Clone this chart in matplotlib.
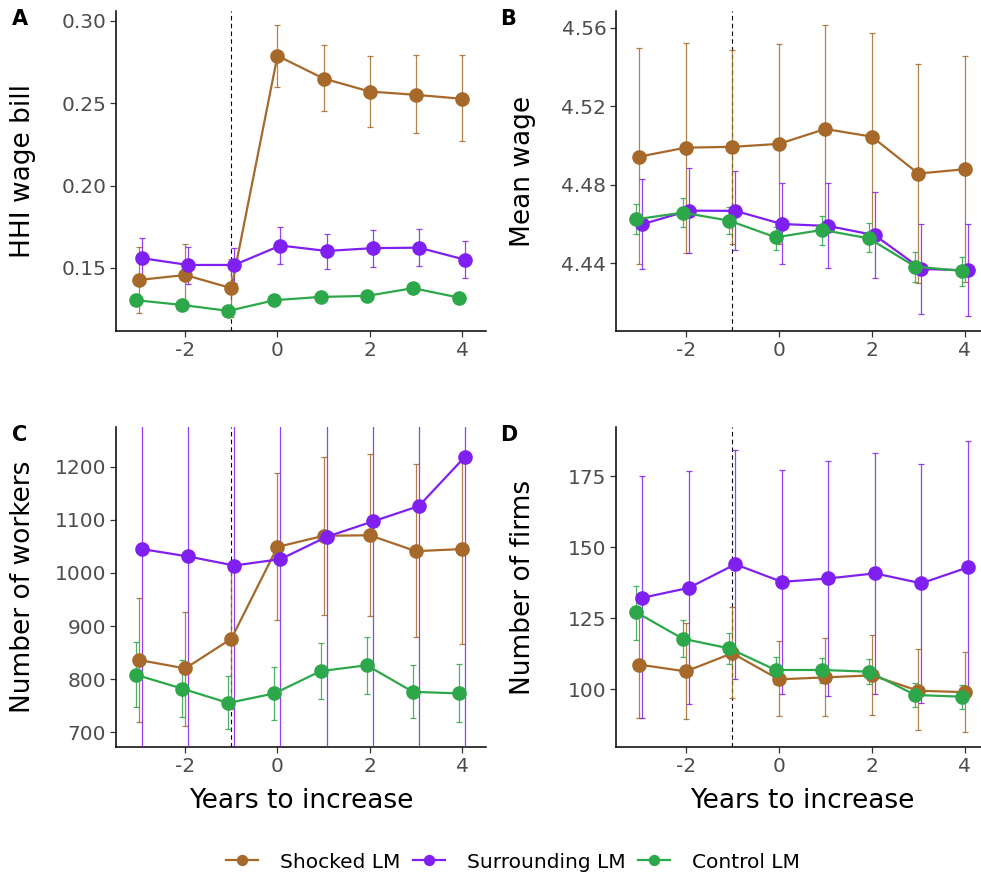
import numpy as np
import matplotlib.pyplot as plt

plt.rcParams['axes.unicode_minus'] = False

# event time
years = np.array([-3, -2, -1, 0, 1, 2, 3, 4])

# A: HHI wage bill
hhi_shocked = [0.1427, 0.1457, 0.1377, 0.2788, 0.2650, 0.2571, 0.2551, 0.2527]
hhi_shocked_lo = [0.1228, 0.1269, 0.1204, 0.2598, 0.2450, 0.2357, 0.2318, 0.2270]
hhi_shocked_hi = [0.1630, 0.1648, 0.1555, 0.2978, 0.2855, 0.2784, 0.2792, 0.2790]
hhi_surr = [0.1559, 0.1518, 0.1518, 0.1636, 0.1603, 0.1620, 0.1623, 0.1550]
hhi_surr_lo = [0.1431, 0.1405, 0.1411, 0.1524, 0.1494, 0.1508, 0.1510, 0.1439]
hhi_surr_hi = [0.1684, 0.1630, 0.1623, 0.1751, 0.1708, 0.1731, 0.1739, 0.1664]
hhi_control = [0.1304, 0.1275, 0.1239, 0.1304, 0.1324, 0.1330, 0.1377, 0.1320]
hhi_control_lo = [0.1280, 0.1252, 0.1216, 0.1281, 0.1300, 0.1306, 0.1352, 0.1296]
hhi_control_hi = [0.1328, 0.1298, 0.1262, 0.1327, 0.1348, 0.1354, 0.1402, 0.1344]

# B: mean wage
wage_shocked = [4.4943, 4.4989, 4.4993, 4.5008, 4.5084, 4.5045, 4.4857, 4.4879]
wage_shocked_lo = [4.4395, 4.4452, 4.4500, 4.4500, 4.4552, 4.4519, 4.4300, 4.4303]
wage_shocked_hi = [4.5499, 4.5523, 4.5485, 4.5516, 4.5616, 4.5575, 4.5414, 4.5458]
wage_surr = [4.4599, 4.4668, 4.4667, 4.4600, 4.4590, 4.4543, 4.4371, 4.4364]
wage_surr_lo = [4.4369, 4.4451, 4.4468, 4.4395, 4.4378, 4.4324, 4.4142, 4.4130]
wage_surr_hi = [4.4828, 4.4884, 4.4872, 4.4808, 4.4808, 4.4762, 4.4599, 4.4600]
wage_control = [4.4624, 4.4658, 4.4617, 4.4532, 4.4570, 4.4527, 4.4383, 4.4361]
wage_control_lo = [4.4548, 4.4585, 4.4548, 4.4468, 4.4493, 4.4456, 4.4306, 4.4286]
wage_control_hi = [4.4702, 4.4734, 4.4688, 4.4586, 4.4641, 4.4604, 4.4458, 4.4434]

# C: number of workers
work_shocked = [836, 820, 876, 1049, 1070, 1071, 1041, 1045]
work_shocked_lo = [720, 712, 744, 911, 921, 918, 879, 866]
work_shocked_hi = [952, 926, 1008, 1189, 1219, 1224, 1205, 1223]
work_surr = [1045, 1031, 1014, 1026, 1068, 1097, 1126, 1219]
work_surr_lo = [380, 370, 350, 360, 400, 420, 440, 520]
work_surr_hi = [1710, 1690, 1680, 1690, 1740, 1770, 1810, 1920]
work_control = [808, 782, 755, 773, 815, 826, 776, 773]
work_control_lo = [747, 729, 706, 723, 762, 772, 726, 720]
work_control_hi = [870, 836, 805, 822, 868, 879, 827, 829]

# D: number of firms
firm_shocked = [108.7, 106.3, 112.7, 103.5, 104.2, 104.9, 99.5, 99.0]
firm_shocked_lo = [89.8, 89.5, 97.1, 90.6, 90.6, 91.1, 85.7, 84.9]
firm_shocked_hi = [127.9, 123.4, 128.8, 116.9, 117.9, 119.0, 114.1, 113.1]
firm_surr = [132.2, 135.7, 144.0, 137.8, 139.0, 140.8, 137.3, 142.9]
firm_surr_lo = [89.8, 94.7, 103.6, 98.2, 97.8, 98.2, 95.3, 98.4]
firm_surr_hi = [174.9, 176.9, 184.1, 177.0, 180.4, 183.2, 179.3, 187.4]
firm_control = [127.1, 117.8, 114.4, 106.8, 106.8, 106.2, 98.0, 97.4]
firm_control_lo = [117.3, 111.4, 108.8, 101.9, 102.1, 101.9, 93.9, 93.0]
firm_control_hi = [136.4, 124.3, 119.9, 111.3, 111.0, 110.5, 102.1, 101.5]

group_names = ['Shocked LM', 'Surrounding LM', 'Control LM']
group_colors = ['#A6692A', '#8020F0', '#2CA84A']
dodge = [0.0, 0.065, -0.065]
draw_order = [2, 0, 1]

panels = [
    ('A', 'HHI wage bill',
     [(hhi_shocked, hhi_shocked_lo, hhi_shocked_hi),
      (hhi_surr, hhi_surr_lo, hhi_surr_hi),
      (hhi_control, hhi_control_lo, hhi_control_hi)],
     (0.1117, 0.306), [0.15, 0.20, 0.25, 0.30], '{:.2f}'),
    ('B', 'Mean wage',
     [(wage_shocked, wage_shocked_lo, wage_shocked_hi),
      (wage_surr, wage_surr_lo, wage_surr_hi),
      (wage_control, wage_control_lo, wage_control_hi)],
     (4.4055, 4.5685), [4.44, 4.48, 4.52, 4.56], '{:.2f}'),
    ('C', 'Number of workers',
     [(work_shocked, work_shocked_lo, work_shocked_hi),
      (work_surr, work_surr_lo, work_surr_hi),
      (work_control, work_control_lo, work_control_hi)],
     (672, 1275), [700, 800, 900, 1000, 1100, 1200], '{:.0f}'),
    ('D', 'Number of firms',
     [(firm_shocked, firm_shocked_lo, firm_shocked_hi),
      (firm_surr, firm_surr_lo, firm_surr_hi),
      (firm_control, firm_control_lo, firm_control_hi)],
     (79.7, 192.3), [100, 125, 150, 175], '{:.0f}'),
]

W, H = 981, 877
fig = plt.figure(figsize=(W / 100, H / 100), dpi=100)

# axes boxes in pixels: left, top, right, bottom
boxes = [(116, 11, 486, 331), (616, 11, 989, 331),
         (116, 427, 486, 747), (616, 427, 989, 747)]

handles = []
for (letter, ylabel, series, ylim, yticks, fmt), (l, t, r, b) in zip(panels, boxes):
    ax = fig.add_axes([l / W, 1 - b / H, (r - l) / W, (b - t) / H])
    ax.axvline(-1, color='black', lw=0.8, ls=(0, (4, 3)), zorder=1)
    for i in draw_order:
        y, lo, hi = [np.asarray(v, dtype=float) for v in series[i]]
        x = years + dodge[i]
        ax.errorbar(x, y, yerr=[y - lo, hi - y], fmt='none', ecolor=group_colors[i],
                    elinewidth=0.9, capsize=2, capthick=0.9, alpha=0.85, zorder=2 + i)
        ln, = ax.plot(x, y, '-o', color=group_colors[i], lw=1.6, ms=9.5,
                      zorder=5 + i, label=group_names[i])
        if letter == 'A':
            handles.append((i, ln))
    ax.set_xlim(-3.5, 4.52)
    ax.set_ylim(*ylim)
    ax.set_xticks([-2, 0, 2, 4])
    ax.set_yticks(yticks)
    ax.set_yticklabels([fmt.format(v) for v in yticks])
    ax.tick_params(labelsize=14.5, labelcolor='#4D4D4D', color='#333333',
                   length=4, width=0.9, pad=3)
    for side in ('top', 'right'):
        ax.spines[side].set_visible(False)
    for side in ('left', 'bottom'):
        ax.spines[side].set_linewidth(1.1)
    ax.set_ylabel(ylabel, fontsize=19)
    # keep the y titles of each column lined up
    ax.yaxis.set_label_coords(-93 / (r - l), 0.5)
    ax.yaxis.label.set_verticalalignment('center')
    if letter in ('C', 'D'):
        ax.set_xlabel('Years to increase', fontsize=19, labelpad=9)
    lx = 12 if letter in ('A', 'C') else 500
    fig.text(lx / W, 1 - (t + 8) / H, letter, fontsize=15, fontweight='bold',
             ha='left', va='center')

handles = [h for _, h in sorted(handles)]
fig.legend(handles, group_names, loc='center', ncol=3, frameon=False,
           bbox_to_anchor=(513 / W, 1 - 862 / H), fontsize=14.5,
           handlelength=1.6, handletextpad=1.1, columnspacing=0.6, markerscale=0.75)

fig.savefig('out.png', dpi=100)
